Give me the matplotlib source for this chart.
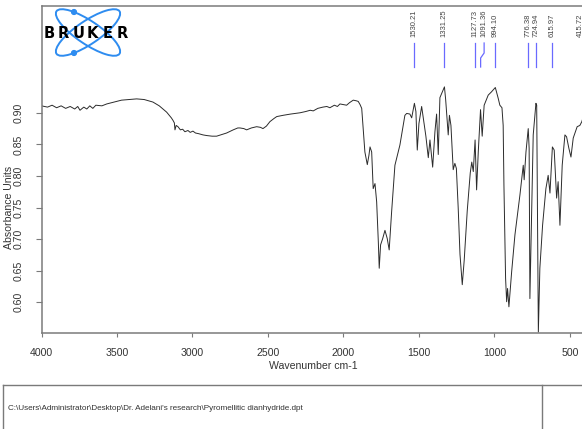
import matplotlib.pyplot as plt
from matplotlib.patches import Ellipse, Circle

plt.rcParams['font.family'] = ['Liberation Sans', 'DejaVu Sans']

# spectrum (wavenumber cm-1, absorbance units)
wavenumber = [4000, 3960, 3930, 3900, 3870, 3840, 3810, 3780, 3760, 3745, 3720, 3700, 3680, 3660,
              3640, 3600, 3568, 3520, 3470, 3420, 3370, 3320, 3262, 3220, 3171, 3140, 3129, 3120,
              3116, 3108, 3096, 3080, 3065, 3050, 3030, 3015, 2997, 2980, 2960, 2930, 2906, 2870,
              2840, 2800, 2774, 2730, 2700, 2685, 2660, 2641, 2610, 2575, 2550, 2533, 2510, 2487,
              2460, 2442, 2400, 2350, 2288, 2250, 2220, 2200, 2170, 2136, 2110, 2090, 2060, 2040,
              2023, 2000, 1979, 1960, 1935, 1915, 1902, 1890, 1879, 1869, 1858, 1842, 1831, 1824,
              1813, 1803, 1791, 1780, 1769, 1763, 1754, 1740, 1725, 1710, 1697, 1681, 1659, 1626,
              1593, 1581, 1560, 1548, 1530, 1520, 1511, 1500, 1482, 1467, 1454, 1438, 1427, 1409,
              1394, 1383, 1372, 1361, 1331, 1323, 1306, 1298, 1288, 1273, 1262, 1252, 1240, 1228,
              1213, 1200, 1180, 1160, 1150, 1140, 1128, 1118, 1107, 1092, 1081, 1068, 1041, 1020,
              994, 975, 964, 950, 942, 937, 926, 919, 913, 904, 886, 864, 831, 809, 803, 791,
              776, 770, 765, 754, 743, 725, 720, 709, 699, 681, 659, 644, 632, 616, 604, 588,
              578, 566, 551, 533, 522, 507, 493, 478, 452, 434, 421, 416, 400]
absorbance = [0.911, 0.909, 0.912, 0.908, 0.911, 0.907, 0.910, 0.906, 0.910, 0.904, 0.909, 0.906,
              0.911, 0.907, 0.912, 0.911, 0.914, 0.917, 0.920, 0.921, 0.922, 0.921, 0.917, 0.911,
              0.901, 0.892, 0.888, 0.884, 0.873, 0.880, 0.878, 0.873, 0.874, 0.870, 0.872, 0.869,
              0.871, 0.868, 0.867, 0.865, 0.864, 0.863, 0.863, 0.866, 0.868, 0.873, 0.876, 0.876,
              0.875, 0.873, 0.876, 0.878, 0.877, 0.875, 0.879, 0.886, 0.891, 0.894, 0.896, 0.898,
              0.900, 0.902, 0.904, 0.903, 0.907, 0.909, 0.910, 0.908, 0.912, 0.910, 0.914, 0.913,
              0.912, 0.916, 0.920, 0.919, 0.918, 0.913, 0.907, 0.875, 0.838, 0.818, 0.833, 0.846,
              0.838, 0.780, 0.788, 0.759, 0.696, 0.654, 0.691, 0.701, 0.714, 0.701, 0.683, 0.743,
              0.817, 0.849, 0.896, 0.899, 0.898, 0.892, 0.915, 0.902, 0.841, 0.883, 0.910, 0.885,
              0.863, 0.829, 0.857, 0.814, 0.870, 0.898, 0.834, 0.924, 0.941, 0.921, 0.865, 0.896,
              0.880, 0.810, 0.820, 0.812, 0.750, 0.676, 0.628, 0.667, 0.745, 0.805, 0.822, 0.807,
              0.857, 0.778, 0.838, 0.905, 0.863, 0.912, 0.928, 0.933, 0.940, 0.923, 0.912, 0.908,
              0.880, 0.786, 0.638, 0.601, 0.622, 0.593, 0.648, 0.707, 0.770, 0.817, 0.794, 0.838,
              0.875, 0.844, 0.606, 0.733, 0.865, 0.915, 0.912, 0.553, 0.654, 0.722, 0.780, 0.801,
              0.773, 0.846, 0.841, 0.765, 0.791, 0.722, 0.817, 0.865, 0.862, 0.844, 0.830, 0.860,
              0.878, 0.880, 0.886, 0.890, 0.884]

peak_labels = ['1530.21', '1331.25', '1127.73', '1091.36', '994.10',
               '776.38', '724.94', '615.97', '415.72']
# label offsets (px) where neighbouring picks would collide
peak_nudge = {'1091.36': 3.5, '415.72': -2}

x_ticks = [4000, 3500, 3000, 2500, 2000, 1500, 1000, 500]
y_ticks = [0.60, 0.65, 0.70, 0.75, 0.80, 0.85, 0.90]

file_path = "C:\\Users\\Administrator\\Desktop\\Dr. Adelani's research\\Pyromellitic dianhydride.dpt"

W, H = 582, 429
grey = '#7a7a7a'
txt = '#333333'
blue = '#6a6aff'
logo_blue = '#2e8cf0'

fig = plt.figure(figsize=(W / 100, H / 100), dpi=100)


def box(x0, y0, x1, y1):
    return [x0 / W, 1 - y1 / H, (x1 - x0) / W, (y1 - y0) / H]


ax = fig.add_axes(box(41.5, 6, 585, 332.7))
ax.plot(wavenumber, absorbance, color='#2b2b2b', lw=0.7)
ax.set_xlim(4000, 400)
ax.set_ylim(0.552, 1.069)

ax.set_xticks(x_ticks)
ax.set_xticklabels([str(t) for t in x_ticks])
ax.set_yticks(y_ticks)
ax.set_yticklabels([f'{v:.2f}' for v in y_ticks])
ax.tick_params(axis='x', length=3, width=0.8, color=grey, labelsize=7.6,
               labelcolor=txt, pad=8)
ax.tick_params(axis='y', length=4, width=0.8, color=grey, labelsize=7.6,
               labelcolor=txt, pad=9)
for lab in ax.get_yticklabels():
    lab.set_rotation(90)
    lab.set_va('center')

ax.set_xlabel('Wavenumber cm-1', fontsize=7.6, color=txt)
ax.xaxis.set_label_coords(0.5, -0.088)

ax.spines['right'].set_visible(False)
for s in ['left', 'bottom', 'top']:
    ax.spines[s].set_color(grey)
    ax.spines[s].set_linewidth(1.1)

# overlay in pixel units for the header, logo and file footer
ov = fig.add_axes([0, 0, 1, 1])
ov.set_autoscale_on(False)
ov.set_xlim(0, W)
ov.set_ylim(H, 0)
ov.axis('off')

ov.text(9, 207, 'Absorbance Units', rotation=90, ha='center', va='center',
        fontsize=7.6, color=txt)

# peak picks
fig.canvas.draw()
for lab in peak_labels:
    xp = ax.transData.transform((float(lab), 0.9))[0]
    nudge = peak_nudge.get(lab, 0)
    xt = xp + nudge
    if nudge > 0:
        ov.plot([xt, xt, xp, xp], [43, 53, 58, 67], color=blue, lw=0.9)
    else:
        ov.plot([xp, xp], [43, 67], color=blue, lw=0.9)
    ov.text(xt, 37, lab, rotation=90, ha='center', va='bottom',
            fontsize=5.5, color='#444444')

# logo
for ang in (34, -34):
    ov.add_patch(Ellipse((88, 32.5), 76, 23, angle=ang, fill=False,
                         ec=logo_blue, lw=1.4))
for cy in (12, 53):
    ov.add_patch(Circle((74, cy), 2.4, color=logo_blue))
for i, ch in enumerate('BRUKER'):
    ov.text(49 + 14.6 * i, 33, ch, ha='center', va='center', fontsize=10.5,
            fontweight='bold', family='DejaVu Sans', color='black', zorder=5)

# footer
ov.plot([3, W], [385, 385], color=grey, lw=1.0)
ov.plot([3, 3], [385, H], color=grey, lw=1.0)
ov.plot([542, 542], [385, H], color=grey, lw=1.0)
ov.text(8, 408, file_path, ha='left', va='center', fontsize=5.9, color=txt)

fig.savefig('out.png', dpi=100)
